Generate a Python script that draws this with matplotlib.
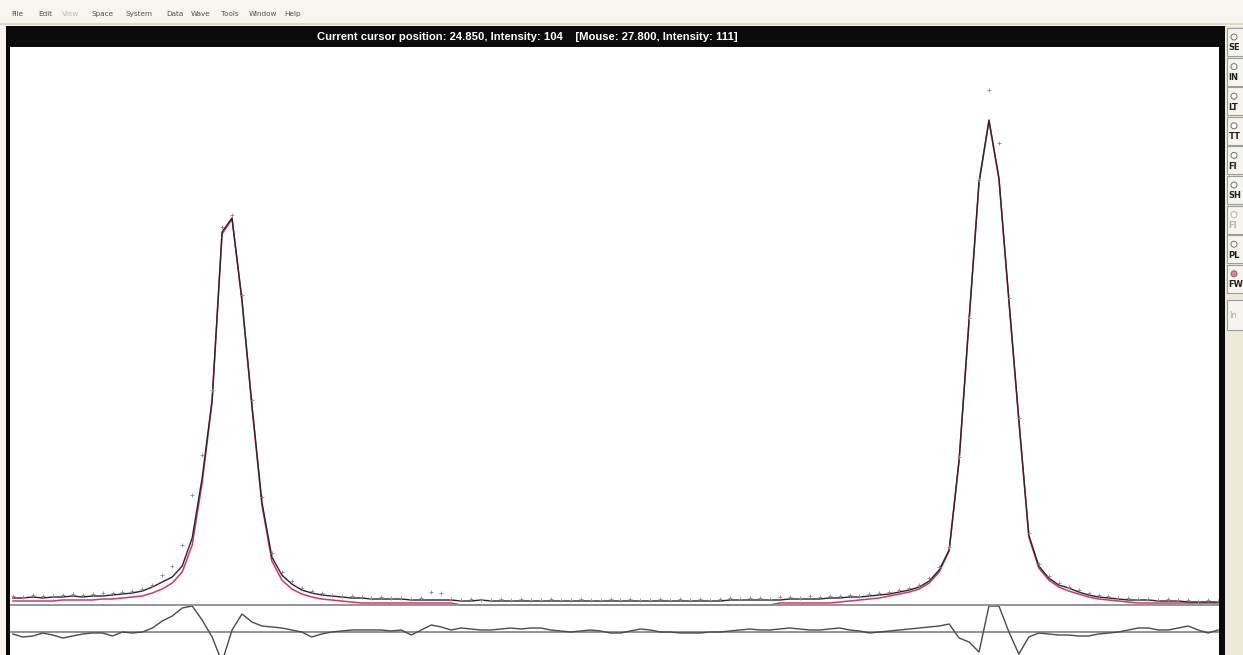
import numpy as np
import matplotlib
matplotlib.use("Agg")
import matplotlib.pyplot as plt
from matplotlib.patches import Rectangle, Ellipse

# ---------------- data ----------------
two_theta = np.round(24.00 + 0.05 * np.arange(122), 2)   # step scan, 0.05 deg

calc_total = [7, 7, 8, 7, 8, 8, 9, 8, 9, 9, 10, 11, 12, 14, 18, 23, 28, 39, 67, 127,
              205, 373, 387, 305, 200, 103, 48, 30, 21, 15, 12, 10, 9, 8, 7, 7, 6, 6, 6, 6,
              5, 5, 5, 5, 5, 4, 4, 5, 4, 4, 4, 4, 4, 4, 4, 4, 4, 4, 4, 4,
              4, 4, 4, 4, 4, 4, 4, 4, 4, 4, 4, 4, 5, 5, 5, 5, 5, 5, 6, 6,
              6, 6, 7, 7, 8, 8, 9, 10, 11, 13, 15, 18, 24, 35, 55, 145, 285, 423, 485, 427,
              305, 185, 70, 39, 27, 20, 17, 13, 10, 8, 7, 6, 5, 5, 5, 4, 4, 4, 3, 3,
              3, 3]

calc_phase = [4, 4, 4, 4, 4, 5, 5, 5, 5, 6, 6, 7, 8, 9, 12, 16, 22, 33, 60, 122,
              203, 371, 386, 304, 198, 100, 44, 25, 16, 11, 8, 6, 5, 4, 3, 2, 2, 2, 2, 2,
              2, 2, 2, 2, 2, 0, 0, 0, 0, 0, 0, 0, 0, 0, 0, 0, 0, 0, 0, 0,
              0, 0, 0, 0, 0, 0, 0, 0, 0, 0, 0, 0, 0, 0, 0, 0, 0, 2, 2, 2,
              2, 2, 2, 3, 4, 5, 6, 7, 9, 11, 13, 16, 22, 33, 54, 144, 284, 422, 484, 426,
              304, 184, 68, 37, 25, 18, 14, 11, 8, 6, 5, 4, 3, 2, 2, 2, 2, 2, 2, 2,
              2, 2]

observed = [9, 8, 10, 9, 9, 10, 11, 10, 11, 12, 12, 13, 14, 16, 20, 30, 39, 60, 110, 150,
            215, 378, 390, 310, 205, 108, 52, 33, 24, 17, 14, 12, 10, 9, 9, 8, 7, 8, 7, 7,
            6, 7, 13, 12, 6, 5, 6, 5, 5, 6, 5, 6, 5, 5, 6, 5, 5, 6, 5, 5,
            6, 5, 6, 5, 5, 6, 5, 6, 5, 6, 5, 6, 7, 6, 7, 7, 6, 8, 8, 7,
            9, 8, 9, 9, 10, 9, 11, 12, 13, 15, 17, 20, 27, 38, 58, 148, 287, 425, 515, 462,
            307, 187, 72, 41, 29, 22, 18, 15, 12, 10, 9, 7, 7, 6, 6, 5, 6, 5, 5, 4,
            5, 4]

difference = [-29, -32, -31, -28, -30, -33, -31, -29, -28, -28, -31, -27, -28, -27, -23, -16, -11, -3, -1, -15,
              -32, -57, -25, -9, -17, -21, -22, -23, -25, -27, -32, -29, -27, -26, -25, -25, -25, -25, -26, -25,
              -30, -25, -20, -22, -25, -23, -24, -25, -25, -24, -23, -24, -23, -23, -25, -26, -27, -26, -25, -26,
              -28, -28, -26, -24, -25, -27, -27, -28, -28, -28, -27, -27, -26, -25, -24, -25, -25, -24, -23, -24,
              -25, -25, -24, -23, -25, -26, -28, -27, -26, -25, -24, -23, -22, -21, -19, -33, -37, -47, -1, -1,
              -27, -49, -32, -28, -29, -30, -30, -31, -31, -29, -28, -27, -25, -23, -23, -25, -25, -23, -21, -25,
              -28, -25]

diff_zero = -27
menu_items = ["File", "Edit", "View", "Space", "System", "Data", "Wave", "Tools", "Window", "Help"]
menu_x = [11, 38, 62, 92, 126, 166, 191, 221, 249, 284]
status_text = "Current cursor position: 24.850, Intensity: 104    [Mouse: 27.800, Intensity: 111]"
side_buttons = ["SE", "IN", "LT", "TT", "FI", "SH", "FI", "PL", "FW"]

# ---------------- figure / window chrome ----------------
W, H = 1243, 655
fig = plt.figure(figsize=(W / 100, H / 100), dpi=100)
fig.patch.set_facecolor("#F7F5EE")


def rect(x0, y0, x1, y1, z=1, **kw):
    fig.add_artist(Rectangle((x0 / W, 1 - y1 / H), (x1 - x0) / W, (y1 - y0) / H,
                             transform=fig.transFigure, zorder=z, **kw))


def ftext(x, y, s, **kw):
    fig.text(x / W, 1 - y / H, s, **kw)


# menu bar
rect(0, 0, W, 23, fc="#F7F5EE", ec="none", z=-5)
rect(0, 23, W, 25, fc="#DDD9CC", ec="none", z=-5)
for name, mx in zip(menu_items, menu_x):
    ftext(mx, 14, name, fontsize=5.2, color="#B8B8B8" if name == "View" else "#505050",
          va="center", ha="left", family="DejaVu Sans")

# plot background
rect(10, 47, 1219, H, fc="white", ec="none", z=-5)
# black frame + status bar
rect(6, 26, 1225, 47, fc="#0A0A0A", ec="none", z=3)
rect(6, 26, 10, H, fc="#0A0A0A", ec="none", z=3)
rect(1219, 26, 1225, H, fc="#0A0A0A", ec="none", z=3)
ftext(527, 37, status_text, color="white", fontsize=8.1, weight="bold",
      ha="center", va="center", family="Liberation Sans", zorder=4)

# right-hand button panel
rect(1225, 26, W, H, fc="#ECE9D8", ec="none", z=2)
for k, lab in enumerate(side_buttons):
    top = 28 + 29.6 * k
    rect(1227, top, W + 3, top + 28, fc="#F5F4EE", ec="#9C9C9C", lw=0.8, z=3)
    disabled = (k == 6)
    col = "#B5B5B5" if disabled else "#202020"
    fill = "#E87A9A" if lab == "FW" else "white"
    fig.add_artist(Ellipse((1234 / W, 1 - (top + 9) / H), 6 / W, 6 / H, transform=fig.transFigure,
                           fc=fill, ec="#B0B0B0" if disabled else "#707070", lw=0.7, zorder=4))
    ftext(1228.5, top + 20, lab, fontsize=6, weight="bold", color=col, va="center", ha="left",
          family="DejaVu Sans", zorder=4)
rect(1227, 300, W + 3, 330, fc="#F5F4EE", ec="#9C9C9C", lw=0.8, z=3)
ftext(1229, 316, "In", fontsize=6, color="#A8A8A8", va="center", ha="left", family="DejaVu Sans", zorder=4)

# ---------------- plot ----------------
ax = fig.add_axes([10 / W, 0, 1209 / W, 608 / H])
ax.set_axis_off()
ax.set_xlim(23.98544, 30.05472)
ax.set_ylim(-50, 558)

ax.axhline(0, color="#8C8C8C", lw=1.3, zorder=4)
ax.axhline(diff_zero, color="#8C8C8C", lw=1.3, zorder=2)
ax.plot(two_theta, calc_phase, color="#D8336A", lw=1.1, zorder=2)
ax.plot(two_theta, calc_total, color="#262626", lw=1.0, zorder=3)
ax.plot(two_theta, observed, ls="none", marker="+", ms=3, mew=0.6, color="#8A8A8A", zorder=5)
ax.plot(two_theta, difference, color="#4A4A4A", lw=1.0, zorder=3)

fig.savefig("out.png", dpi=100, facecolor=fig.get_facecolor())
